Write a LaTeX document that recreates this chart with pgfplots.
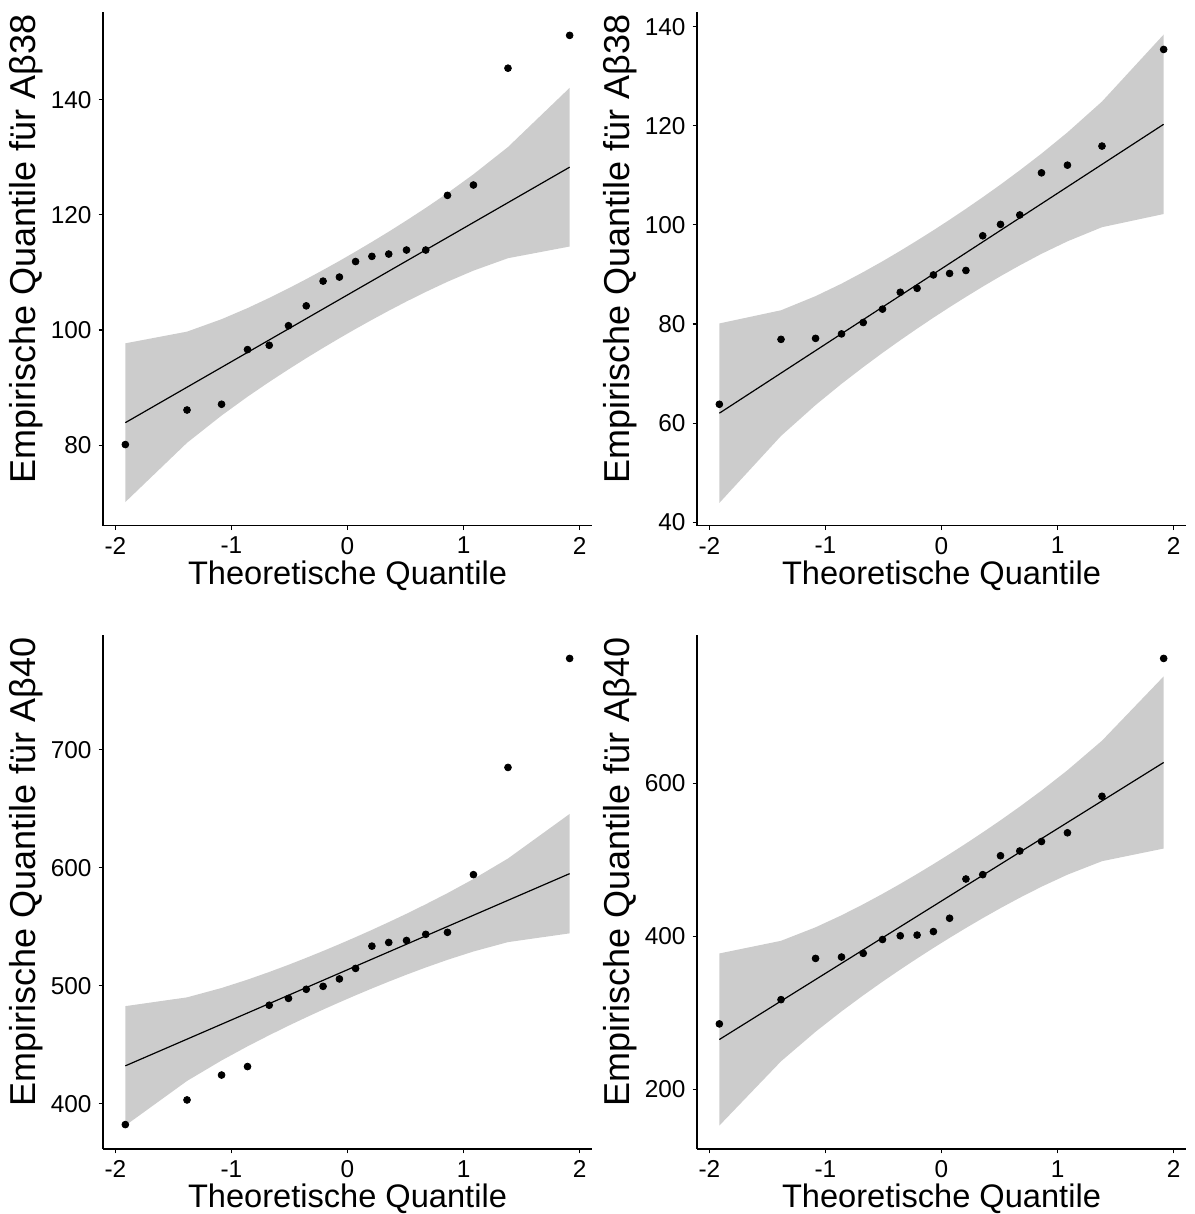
\documentclass[border=0pt]{standalone}
\usepackage{fontspec}
\setmainfont{Liberation Sans}
\usepackage{pgfplots}
\pgfplotsset{compat=1.18}
\definecolor{band}{RGB}{204,204,204}
\pgfplotsset{qq/.style={
  scale only axis, width=244.5pt, height=256.95pt,
  anchor=south west,
  xmin=-2.107, xmax=2.107,
  axis x line*=bottom, axis y line*=left,
  axis line style={black, line width=0.55pt, -},
  tick align=outside, major tick length=2.2pt,
  every tick/.style={black, line width=0.55pt},
  xtick={-2,-1,0,1,2}, xticklabels={-2,-1,0,1,2},
  ticklabel style={font=\fontsize{12.2}{14}\selectfont, text=black},
  xlabel={Theoretische Quantile},
  xlabel style={font=\fontsize{16.3}{19}\selectfont, at={(axis description cs:0.5,0)}, anchor=center, yshift=-24.8pt},
  ylabel style={font=\fontsize{18}{21}\selectfont, at={(axis description cs:0,0.5)}, anchor=center, yshift=38.5pt, xshift=10pt},
  clip=false,
}}
\begin{document}
\begin{tikzpicture}
\path[use as bounding box] (0,0) rectangle (597pt,607pt);
% top left
\begin{axis}[qq, at={(51.5pt,344.15pt)}, ymin=66.0, ymax=155.3,
  ytick={80,100,120,140}, yticklabels={80,100,120,140},
  ylabel={Empirische Quantile für Aβ38}]
\addplot[fill=band, draw=none] coordinates {(-1.9145,97.69) (-1.3830,99.72) (-1.0853,101.88) (-0.8616,103.81) (-0.6745,105.58) (-0.5085,107.24) (-0.3554,108.85) (-0.2104,110.43) (-0.0697,112.01) (0.0697,113.63) (0.2104,115.31) (0.3554,117.09) (0.5085,119.04) (0.6745,121.22) (0.8616,123.79) (1.0853,127.06) (1.3830,131.80) (1.9145,142.09)
(1.9145,114.51) (1.3830,112.48) (1.0853,110.32) (0.8616,108.39) (0.6745,106.62) (0.5085,104.96) (0.3554,103.35) (0.2104,101.77) (0.0697,100.19) (-0.0697,98.57) (-0.2104,96.89) (-0.3554,95.11) (-0.5085,93.16) (-0.6745,90.98) (-0.8616,88.41) (-1.0853,85.14) (-1.3830,80.40) (-1.9145,70.11)};
\addplot[black, line width=0.6pt] coordinates {(-1.9145,83.9) (1.9145,128.3)};
\addplot[only marks, mark=*, mark size=1.7pt, black] coordinates {(-1.9145,80.1) (-1.3830,86.1) (-1.0853,87.1) (-0.8616,96.6) (-0.6745,97.35) (-0.5085,100.75) (-0.3554,104.2) (-0.2104,108.5) (-0.0697,109.2) (0.0697,111.9) (0.2104,112.8) (0.3554,113.2) (0.5085,113.9) (0.6745,113.9) (0.8616,123.4) (1.0853,125.2) (1.3830,145.5) (1.9145,151.2)};
\end{axis}
% top right
\begin{axis}[qq, at={(348.5pt,344.15pt)}, ymin=39.3, ymax=143.0,
  ytick={40,60,80,100,120,140}, yticklabels={40,60,80,100,120,140},
  ylabel={Empirische Quantile für Aβ38}]
\addplot[fill=band, draw=none] coordinates {(-1.9145,80.11) (-1.3830,82.77) (-1.0853,85.62) (-0.8616,88.14) (-0.6745,90.47) (-0.5085,92.65) (-0.3554,94.76) (-0.2104,96.84) (-0.0697,98.91) (0.0697,101.03) (0.2104,103.24) (0.3554,105.58) (0.5085,108.13) (0.6745,111.01) (0.8616,114.38) (1.0853,118.66) (1.3830,124.89) (1.9145,138.41)
(1.9145,102.19) (1.3830,99.53) (1.0853,96.68) (0.8616,94.16) (0.6745,91.83) (0.5085,89.65) (0.3554,87.54) (0.2104,85.46) (0.0697,83.39) (-0.0697,81.27) (-0.2104,79.06) (-0.3554,76.72) (-0.5085,74.17) (-0.6745,71.29) (-0.8616,67.92) (-1.0853,63.64) (-1.3830,57.41) (-1.9145,43.89)};
\addplot[black, line width=0.6pt] coordinates {(-1.9145,62.0) (1.9145,120.3)};
\addplot[only marks, mark=*, mark size=1.7pt, black] coordinates {(-1.9145,63.8) (-1.3830,76.9) (-1.0853,77.1) (-0.8616,78.0) (-0.6745,80.3) (-0.5085,83.0) (-0.3554,86.4) (-0.2104,87.2) (-0.0697,89.9) (0.0697,90.2) (0.2104,90.8) (0.3554,97.8) (0.5085,100.1) (0.6745,102.0) (0.8616,110.5) (1.0853,112.05) (1.3830,115.9) (1.9145,135.4)};
\end{axis}
% bottom left
\begin{axis}[qq, at={(51.5pt,32.5pt)}, ymin=361.6, ymax=797.3,
  ytick={400,500,600,700}, yticklabels={400,500,600,700},
  ylabel={Empirische Quantile für Aβ40}]
\addplot[fill=band, draw=none] coordinates {(-1.9145,482.73) (-1.3830,490.16) (-1.0853,498.11) (-0.8616,505.18) (-0.6745,511.67) (-0.5085,517.77) (-0.3554,523.67) (-0.2104,529.47) (-0.0697,535.28) (0.0697,541.22) (0.2104,547.37) (0.3554,553.93) (0.5085,561.05) (0.6745,569.09) (0.8616,578.52) (1.0853,590.49) (1.3830,607.88) (1.9145,645.69)
(1.9145,544.43) (1.3830,537.00) (1.0853,529.05) (0.8616,521.98) (0.6745,515.49) (0.5085,509.39) (0.3554,503.49) (0.2104,497.69) (0.0697,491.88) (-0.0697,485.94) (-0.2104,479.79) (-0.3554,473.23) (-0.5085,466.11) (-0.6745,458.07) (-0.8616,448.64) (-1.0853,436.67) (-1.3830,419.28) (-1.9145,381.47)};
\addplot[black, line width=0.6pt] coordinates {(-1.9145,432.1) (1.9145,595.06)};
\addplot[only marks, mark=*, mark size=1.7pt, black] coordinates {(-1.9145,382.3) (-1.3830,403.2) (-1.0853,424.3) (-0.8616,431.5) (-0.6745,483.5) (-0.5085,489.3) (-0.3554,497.0) (-0.2104,499.5) (-0.0697,505.8) (0.0697,514.7) (0.2104,533.6) (0.3554,536.7) (0.5085,538.4) (0.6745,543.6) (0.8616,545.3) (1.0853,594.2) (1.3830,685.1) (1.9145,777.5)};
\end{axis}
% bottom right
\begin{axis}[qq, at={(348.5pt,32.5pt)}, ymin=122.2, ymax=793.9,
  ytick={200,400,600}, yticklabels={200,400,600},
  ylabel={Empirische Quantile für Aβ40}]
\addplot[fill=band, draw=none] coordinates {(-1.9145,377.79) (-1.3830,394.32) (-1.0853,411.96) (-0.8616,427.68) (-0.6745,442.10) (-0.5085,455.66) (-0.3554,468.77) (-0.2104,481.65) (-0.0697,494.57) (0.0697,507.75) (0.2104,521.45) (0.3554,536.00) (0.5085,551.84) (0.6745,569.68) (0.8616,590.64) (1.0853,617.24) (1.3830,655.90) (1.9145,739.89)
(1.9145,514.91) (1.3830,498.38) (1.0853,480.74) (0.8616,465.02) (0.6745,450.60) (0.5085,437.04) (0.3554,423.93) (0.2104,411.05) (0.0697,398.13) (-0.0697,384.95) (-0.2104,371.25) (-0.3554,356.71) (-0.5085,340.86) (-0.6745,323.02) (-0.8616,302.06) (-1.0853,275.46) (-1.3830,236.80) (-1.9145,152.81)};
\addplot[black, line width=0.6pt] coordinates {(-1.9145,265.3) (1.9145,627.4)};
\addplot[only marks, mark=*, mark size=1.7pt, black] coordinates {(-1.9145,285.7) (-1.3830,317.4) (-1.0853,371.3) (-0.8616,373.1) (-0.6745,377.9) (-0.5085,396.0) (-0.3554,400.9) (-0.2104,401.8) (-0.0697,406.4) (0.0697,423.8) (0.2104,475.1) (0.3554,480.8) (0.5085,505.5) (0.6745,511.7) (0.8616,524.1) (1.0853,535.5) (1.3830,583.2) (1.9145,763.4)};
\end{axis}
\end{tikzpicture}
\end{document}
